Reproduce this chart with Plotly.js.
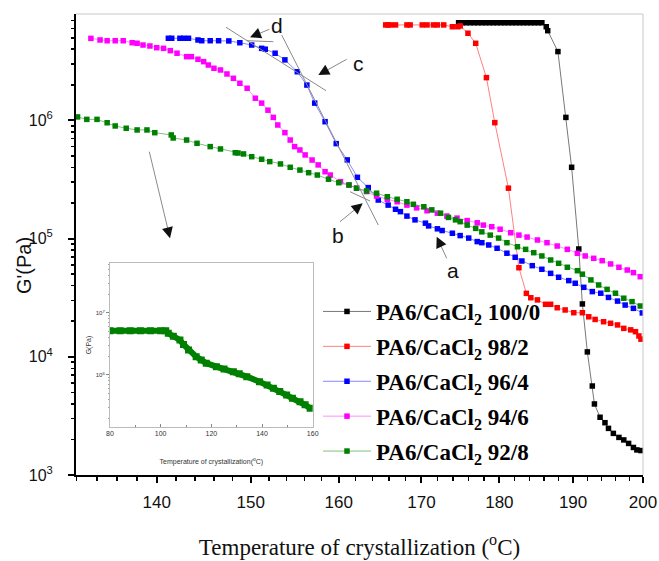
<!DOCTYPE html>
<html>
<head>
<meta charset="utf-8">
<script src="https://cdn.plot.ly/plotly-3.0.1.min.js"></script>
<style>html,body{margin:0;padding:0;background:#fff;}#chart{width:659px;height:561px;}</style>
</head>
<body>
<div id="chart"></div>
<script>
// ---------- data ----------
const seriesNames = ['PA6/CaCl<sub>2</sub> 100/0','PA6/CaCl<sub>2</sub> 98/2','PA6/CaCl<sub>2</sub> 96/4','PA6/CaCl<sub>2</sub> 94/6','PA6/CaCl<sub>2</sub> 92/8'];

const T_100_0 = [174.7,175.2,175.7,176.2,176.7,177.2,177.7,178.2,178.7,179.2,179.7,180.2,180.7,181.2,181.7,182.2,182.7,183.2,183.7,184.2,184.7,185.2,185.7,186.3,186.5,187.9,189.0,189.8,190.8,191.3,192.0,192.7,193.0,193.8,194.5,195.0,195.7,196.5,197.2,197.9,198.6,199.1,199.7];
const G_100_0 = [6.7e6,6.7e6,6.7e6,6.7e6,6.7e6,6.7e6,6.7e6,6.7e6,6.7e6,6.7e6,6.7e6,6.7e6,6.7e6,6.7e6,6.7e6,6.7e6,6.7e6,6.7e6,6.7e6,6.7e6,6.7e6,6.7e6,6.7e6,6.2e6,5.74e6,3.82e6,1.06e6,4.01e5,8.17e4,2.8e4,1.1e4,5.66e3,3.99e3,3.08e3,2.77e3,2.48e3,2.25e3,2.08e3,1.98e3,1.85e3,1.71e3,1.63e3,1.61e3];

const T_98_2 = [165.6,165.9,166.2,166.8,168.2,168.6,170.1,170.7,171.5,172.0,172.8,173.9,174.6,174.9,175.9,176.9,178.3,179.4,181.2,182.6,183.6,184.2,185.1,186.2,186.9,187.8,188.9,190.1,191.3,192.2,193.1,194.3,195.3,196.3,197.2,198.2,198.9,199.4,199.7];
const G_98_2 = [6.42e6,6.42e6,6.42e6,6.42e6,6.42e6,6.42e6,6.42e6,6.42e6,6.42e6,6.42e6,6.42e6,6.2e6,6.2e6,6.3e6,5.46e6,4.49e6,2.30e6,9.57e5,2.67e5,5.67e4,3.44e4,3.16e4,3.03e4,2.78e4,2.78e4,2.6e4,2.49e4,2.36e4,2.36e4,2.18e4,2.07e4,1.98e4,1.92e4,1.86e4,1.74e4,1.69e4,1.63e4,1.50e4,1.41e4];

const T_96_4 = [141.2,141.55,142.4,142.8,143.3,144.3,144.7,145.6,146.5,147.6,148.8,150.1,151.2,151.6,152.7,153.8,155.2,156.3,157.2,158.4,159.7,161.0,162.2,163.5,164.7,165.9,166.8,167.4,168.2,169.2,170.5,170.9,172.0,172.6,173.9,174.9,176.0,177.1,177.7,178.6,179.7,181.0,182.1,183.0,184.4,185.7,186.9,188.0,189.4,190.3,191.5,192.7,193.9,195.0,196.3,197.4,198.6,199.9];
const G_96_4 = [4.95e6,4.95e6,4.95e6,4.95e6,4.95e6,4.79e6,4.72e6,4.72e6,4.72e6,4.7e6,4.54e6,4.34e6,4.07e6,4.0e6,3.7e6,3.25e6,2.58e6,1.99e6,1.40e6,9.75e5,6.36e5,4.63e5,3.3e5,2.70e5,2.12e5,1.92e5,1.77e5,1.69e5,1.55e5,1.44e5,1.35e5,1.28e5,1.21e5,1.17e5,1.11e5,1.06e5,1.01e5,9.43e4,9.23e4,8.83e4,8.28e4,7.52e4,6.95e4,6.46e4,5.9e4,5.5e4,5.08e4,4.71e4,4.41e4,4.19e4,3.87e4,3.56e4,3.45e4,3.18e4,2.96e4,2.74e4,2.57e4,2.35e4];

const T_94_6 = [133.4,134.3,135.0,135.8,136.6,137.5,138.0,138.6,139.3,140.0,140.7,141.4,142.1,143.1,143.6,144.3,144.9,145.4,146.0,146.7,147.4,148.1,148.8,149.6,150.5,151.2,151.9,152.5,153.0,153.8,154.4,154.9,155.5,156.1,156.9,157.6,158.4,159.0,160.2,161.2,162.1,163.3,164.5,165.8,167.0,168.2,169.4,170.7,172.0,173.2,174.5,175.8,177.1,177.9,179.0,180.1,181.5,182.6,183.7,185.1,186.4,187.8,189.2,190.6,191.7,192.9,194.1,195.3,196.5,197.7,198.6,199.6];
const G_94_6 = [4.94e6,4.79e6,4.72e6,4.72e6,4.72e6,4.54e6,4.49e6,4.34e6,4.26e6,4.12e6,4.07e6,3.89e6,3.70e6,3.46e6,3.46e6,3.29e6,3.14e6,2.94e6,2.76e6,2.67e6,2.47e6,2.27e6,2.06e6,1.87e6,1.54e6,1.40e6,1.22e6,1.06e6,9.14e5,7.88e5,6.82e5,6.0e5,5.62e5,5.1e5,4.62e5,4.2e5,3.68e5,3.45e5,3.03e5,2.84e5,2.67e5,2.50e5,2.29e5,2.15e5,2.05e5,1.92e5,1.82e5,1.72e5,1.64e5,1.55e5,1.49e5,1.42e5,1.36e5,1.30e5,1.26e5,1.20e5,1.12e5,1.07e5,1.03e5,9.73e4,9.23e4,8.65e4,8.11e4,7.51e4,7.13e4,6.81e4,6.50e4,6.10e4,5.72e4,5.42e4,5.15e4,4.76e4];

const T_92_8 = [132.1,133.0,134.0,135.0,135.8,136.9,138.0,139.0,139.8,141.5,141.7,143.1,144.2,145.6,146.7,148.3,148.6,149.2,150.1,151.2,152.1,153.3,154.4,155.5,156.5,157.5,158.8,160.0,161.2,162.1,163.3,164.5,165.8,167.0,168.2,169.0,170.3,171.3,172.4,173.4,174.3,174.9,175.8,176.9,177.7,178.8,179.9,181.0,182.4,183.5,184.6,185.7,186.9,188.0,189.2,190.6,191.3,192.5,193.6,194.8,196.0,197.2,198.4,199.6];
const G_92_8 = [1.07e6,1.02e6,1.02e6,9.55e5,8.97e5,8.58e5,8.30e5,8.30e5,7.87e5,7.53e5,7.1e5,6.82e5,6.4e5,6.0e5,5.73e5,5.33e5,5.3e5,5.2e5,4.93e5,4.69e5,4.48e5,4.28e5,4.01e5,3.80e5,3.61e5,3.45e5,3.18e5,2.97e5,2.84e5,2.67e5,2.53e5,2.42e5,2.26e5,2.15e5,2.05e5,1.95e5,1.86e5,1.75e5,1.64e5,1.51e5,1.44e5,1.39e5,1.30e5,1.22e5,1.14e5,1.07e5,1.01e5,9.23e4,8.53e4,8.11e4,7.6e4,7.13e4,6.59e4,6.18e4,5.72e4,5.35e4,5.0e4,4.47e4,4.05e4,3.72e4,3.45e4,3.13e4,2.93e4,2.69e4];

// inset (92/8 over a wider temperature range)
const T_inset = [80,84,88,92,96,100,102,103,105,107.6,109,111,114,116,118,122,125,128.7,131,134,139,142,144.5,147,149.7,152,155,157,159];
const G_inset = [5.18e6,5.18e6,5.18e6,5.18e6,5.18e6,5.18e6,5.18e6,4.71e6,4.2e6,3.67e6,3.1e6,2.53e6,1.97e6,1.75e6,1.55e6,1.36e6,1.25e6,1.13e6,1.05e6,9.4e5,7.8e5,6.9e5,6.1e5,5.4e5,4.75e5,4.2e5,3.7e5,3.3e5,2.9e5];

const xTicks = [140,150,160,170,180,190,200];
const yTicks = [1e3,1e4,1e5,1e6];
const yTickText = ['10<sup>3</sup>','10<sup>4</sup>','10<sup>5</sup>','10<sup>6</sup>'];
const insetXTicks = [80,100,120,140,160];
const insetYTicks = [1e6,1e7];
const insetYTickText = ['10<sup>6</sup>','10<sup>7</sup>'];

// ---------- styling ----------
const colors = ['#000000','#ff0000','#0000ff','#ff00ff','#008000'];
const lineColors = ['#555555','#ff6060','#6a6aff','#ff70ff','#60b060'];
const Ts = [T_100_0,T_98_2,T_96_4,T_94_6,T_92_8];
const Gs = [G_100_0,G_98_2,G_96_4,G_94_6,G_92_8];

const traces = Ts.map((t,i)=>({
  x:t, y:Gs[i], type:'scatter', mode:'lines+markers', name:seriesNames[i], legendgroup:'g'+i,
  line:{color:lineColors[i], width:0.8},
  marker:{symbol:'square', size:5.5, color:colors[i]},
  xaxis:'x', yaxis:'y'
}));
traces.push({
  x:T_inset, y:G_inset, type:'scatter', mode:'lines+markers', showlegend:false,
  line:{color:'#008000', width:6}, marker:{symbol:'square', size:7, color:'#008000'},
  xaxis:'x2', yaxis:'y2'
});

// pixel -> paper helper for decorations
const L=76, R=643, TOP=14, BOT=475;
const px=(x)=>(x-L)/(R-L), py=(y)=>(BOT-y)/(BOT-TOP);

const minorX=[]; for(let v=132; v<200; v+=2){ if(v%10!==0) minorX.push(v); }
const minorY=[]; for(let e=3;e<7;e++){ for(let d=2; d<=9; d++){ minorY.push(d*Math.pow(10,e)); } }
const minorYi=[]; for(let e=5;e<8;e++){ for(let d=2; d<=9; d++){ minorYi.push(d*Math.pow(10,e)); } }

const gray='#8a8a8a';
const seg=(x0,y0,x1,y1,c,w)=>({type:'line', xref:'paper', yref:'paper', x0:px(x0), y0:py(y0), x1:px(x1), y1:py(y1), line:{color:c||gray, width:w||1}});
const shapes=[
  seg(L,TOP,R,TOP,'#c8c8c8',1),
  seg(R,TOP,R,BOT,'#c8c8c8',1),
  seg(226,27.3,326,90.7),
  seg(281.7,35,378.3,225),
  seg(246.7,40.7,273.3,41.7),
  seg(350,191.7,370,201),
  // arrow shafts
  seg(269.3,29.3,252,36.5),
  seg(346.7,59.3,321,73.5),
  seg(340,221.7,360.5,205),
  seg(446.7,258.3,438,239.5),
  seg(149.3,151.7,169.3,235)
];
const head=(hx,hy,tx,ty)=>{
  const dx=tx-hx, dy=ty-hy, n=Math.hypot(dx,dy);
  return {xref:'paper', yref:'paper', x:px(hx), y:py(hy), ax:dx/n*5, ay:dy/n*5, text:'', showarrow:true,
          arrowhead:2, arrowsize:2.2, arrowwidth:1, arrowcolor:'#111'};
};
const label=(t,x,y,s,ang)=>({xref:'paper', yref:'paper', x:px(x), y:py(y), text:t, showarrow:false, textangle:ang||0,
  font:{family:'Liberation Sans, Arial', size:s||21, color:'#111'}, xanchor:'center', yanchor:'middle'});
const annotations=[
  head(250,37.3,269.3,29.3),
  head(318.3,75,346.7,59.3),
  head(362.7,203.3,340,221.7),
  head(436.7,236.7,446.7,258.3),
  head(170,238.3,149.3,151.7),
  label('d',277,25), label('c',358,63), label('b',338,235), label('a',453,270),
  label("G'(Pa)",24,266,20,-90)
];

const layout={
  width:659, height:561,
  margin:{l:L, r:659-R, t:TOP, b:561-BOT, pad:0},
  paper_bgcolor:'#ffffff', plot_bgcolor:'#ffffff',
  showlegend:true,
  legend:{x:px(318), y:py(290), xanchor:'left', yanchor:'top', bgcolor:'rgba(0,0,0,0)', borderwidth:0,
          font:{family:'Liberation Serif, Times New Roman', size:23, color:'#000', weight:'bold'}, itemwidth:48, tracegroupgap:2},
  xaxis:{type:'log', range:[Math.log10(131.95), Math.log10(200)], tickmode:'array', tickvals:xTicks, ticktext:xTicks.map(String),
    ticks:'outside', ticklen:6, tickwidth:2, tickcolor:'#000', showline:true, linewidth:2, linecolor:'#000',
    showgrid:false, zeroline:false, tickfont:{family:'Liberation Sans, Arial', size:17, color:'#111'}, ticklabelstandoff:5,
    minor:{tickmode:'array', tickvals:minorX, ticks:'outside', ticklen:3.5, tickwidth:1.5, tickcolor:'#000', showgrid:false},
    title:{text:'Temperature of crystallization (<sup>o</sup>C)', font:{family:'Liberation Serif, Times New Roman', size:23, color:'#111'}, standoff:27}},
  yaxis:{type:'log', range:[3,6.9], tickmode:'array', tickvals:yTicks, ticktext:yTickText,
    ticks:'outside', ticklen:6, tickwidth:2, tickcolor:'#000', showline:true, linewidth:2, linecolor:'#000',
    showgrid:false, zeroline:false, tickfont:{family:'Liberation Sans, Arial', size:16, color:'#111'}, ticklabelstandoff:12,
    minor:{tickmode:'array', tickvals:minorY, ticks:'outside', ticklen:3.5, tickwidth:1.5, tickcolor:'#000', showgrid:false}},
  xaxis2:{domain:[px(110),px(312.7)], anchor:'y2', range:[80,160], tickmode:'array', tickvals:insetXTicks,
    ticks:'inside', ticklen:3, tickwidth:0.8, tickcolor:'#666', showline:true, mirror:true, linewidth:1, linecolor:'#bbbbbb',
    showgrid:false, zeroline:false, tickfont:{family:'Liberation Sans, Arial', size:7, color:'#333'},
    minor:{tickmode:'array', tickvals:[90,110,130,150], ticks:'inside', ticklen:2, tickcolor:'#666'},
    title:{text:'Temperature of crystallization(<sup>o</sup>C)', font:{family:'Liberation Sans, Arial', size:7, color:'#333'}, standoff:22}},
  yaxis2:{domain:[py(427),py(263)], anchor:'x2', type:'log', range:[5.161,7.806], tickmode:'array', tickvals:insetYTicks, ticktext:insetYTickText,
    ticks:'outside', ticklen:3, tickwidth:0.8, tickcolor:'#666', showline:true, mirror:true, linewidth:1, linecolor:'#bbbbbb',
    showgrid:false, zeroline:false, tickfont:{family:'Liberation Sans, Arial', size:6, color:'#333'},
    minor:{tickmode:'array', tickvals:minorYi, ticks:'outside', ticklen:1.5, tickcolor:'#888'},
    title:{text:'G(Pa)', font:{family:'Liberation Sans, Arial', size:7, color:'#333'}, standoff:3}},
  shapes:shapes,
  annotations:annotations
};

Plotly.newPlot('chart', traces, layout, {staticPlot:true, displayModeBar:false});
</script>
</body>
</html>
